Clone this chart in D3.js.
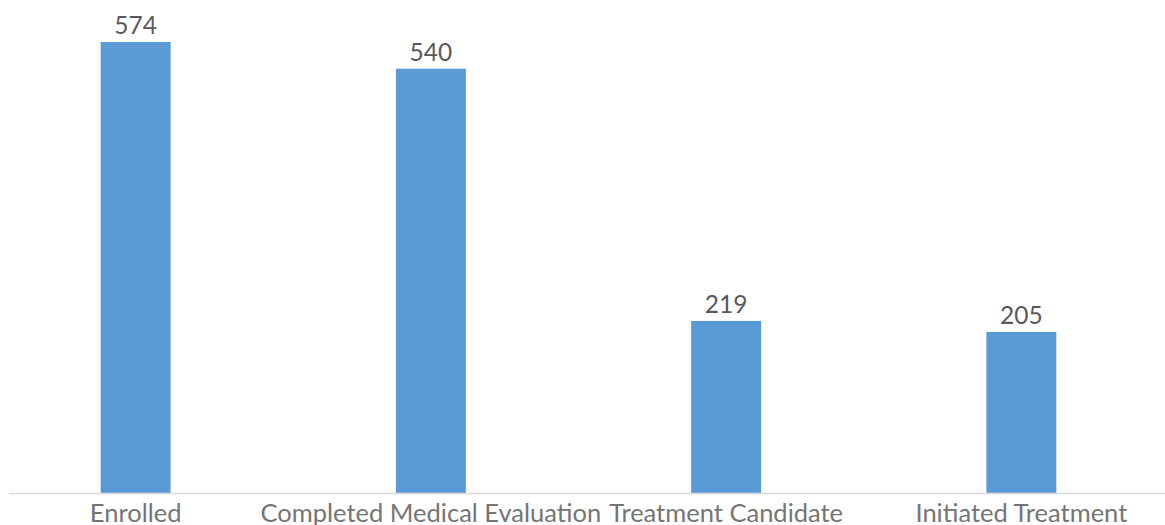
<!DOCTYPE html>
<html><head><meta charset="utf-8">
<script src="https://cdn.jsdelivr.net/npm/d3@7"></script>
<style>body{margin:0;background:#fff}svg{display:block}</style>
</head><body><svg id="c" width="1165" height="525"></svg>
<script>
const categories = ["Enrolled","Completed Medical Evaluation","Treatment Candidate","Initiated Treatment"];
const values = [574,540,219,205];

const svg = d3.select("#c");
const baseY = 493;
const x = d3.scaleBand().domain(categories).range([-12,1169]).paddingInner(0.763).paddingOuter(0.3815);
const y = d3.scaleLinear().domain([0,574]).range([baseY,42]);
const font = "Lato, 'Open Sans', sans-serif";

svg.selectAll("rect.bar").data(values).join("rect").attr("class","bar")
  .attr("x",(d,i)=>x(categories[i])).attr("width",x.bandwidth())
  .attr("y",d=>y(d)).attr("height",d=>baseY-y(d)).attr("fill","#5B9BD5");

svg.append("line").attr("x1",9).attr("x2",1165).attr("y1",baseY+0.5).attr("y2",baseY+0.5)
  .attr("stroke","#D9D9D9").attr("stroke-width",1.5);

svg.selectAll("text.val").data(values).join("text").attr("class","val")
  .attr("x",(d,i)=>x(categories[i])+x.bandwidth()/2).attr("y",d=>y(d)-8)
  .attr("text-anchor","middle").attr("font-family",font).attr("font-size",24.5).attr("fill","#595959")
  .text(d=>d);

svg.selectAll("text.cat").data(categories).join("text").attr("class","cat")
  .attr("x",d=>x(d)+x.bandwidth()/2).attr("y",521.5)
  .attr("text-anchor","middle").attr("font-family",font).attr("font-size",25.5).attr("fill","#757575")
  .text(d=>d);
</script></body></html>
